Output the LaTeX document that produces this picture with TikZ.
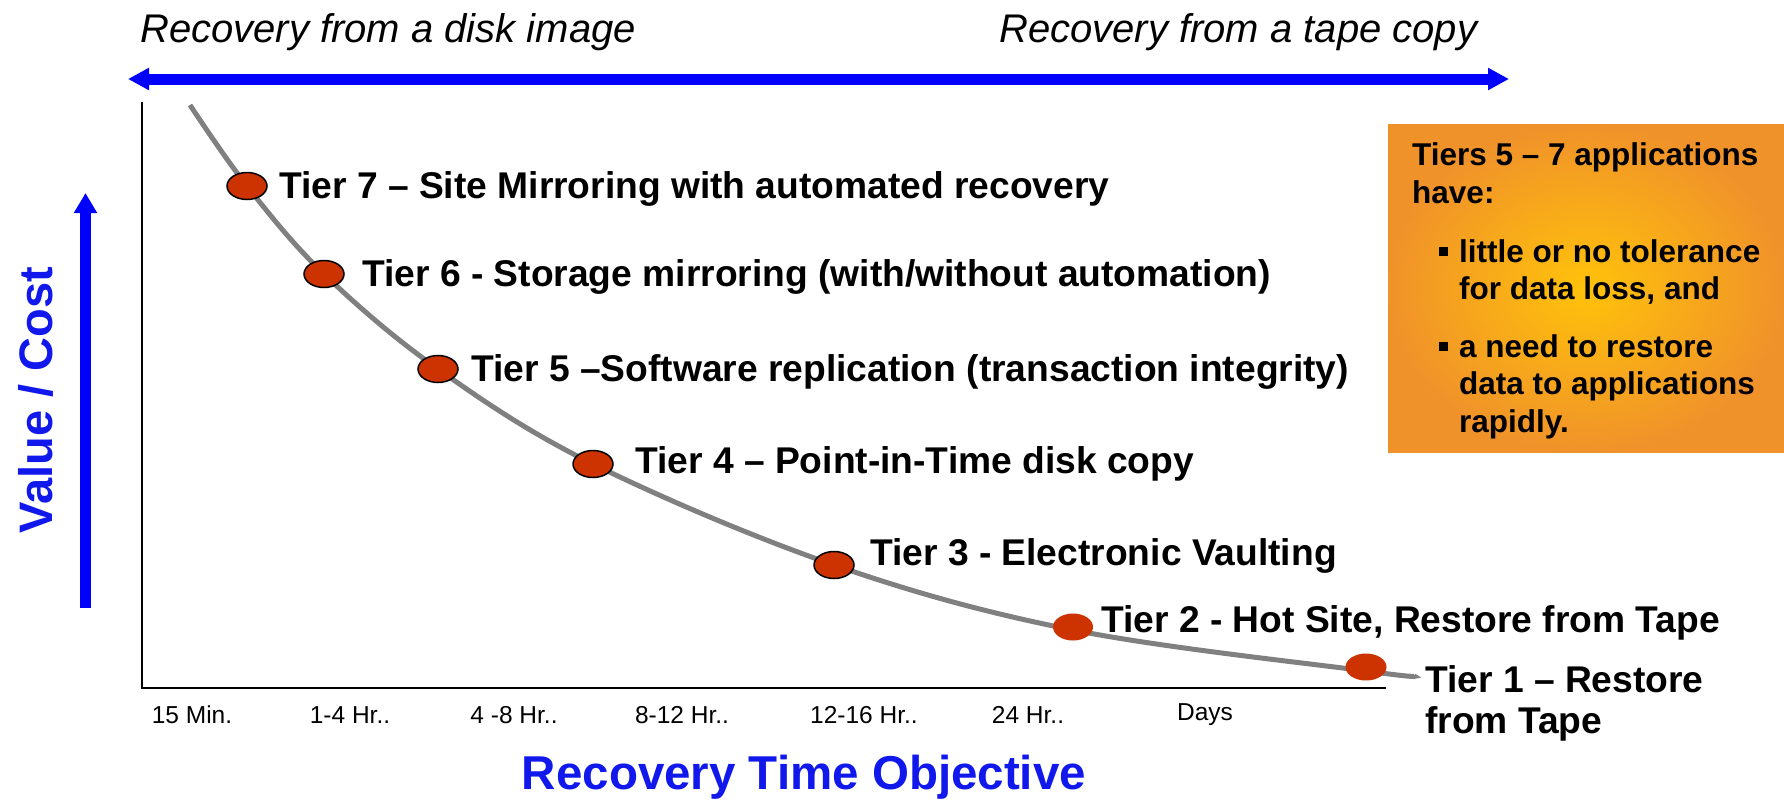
\documentclass[tikz,border=0pt]{standalone}
\usepackage{fontspec}
\setmainfont{Liberation Sans}
\usetikzlibrary{arrows.meta,shapes.geometric}
\definecolor{arrowblue}{RGB}{0,0,255}
\definecolor{titleblue}{RGB}{16,24,235}
\definecolor{dotred}{RGB}{204,51,0}
\definecolor{curvegray}{RGB}{128,128,128}
\definecolor{boxorange}{RGB}{240,146,42}
\definecolor{boxyellow}{RGB}{255,194,10}
\begin{document}
\begin{tikzpicture}[x=1pt,y=-1pt,
  tierlabel/.style={anchor=west,inner sep=0pt,font=\fontsize{37.2}{44}\selectfont\bfseries},
  ticklabel/.style={inner sep=0pt,font=\fontsize{24.5}{29}\selectfont},
  dotnode/.style={ellipse,minimum width=40pt,minimum height=27pt,inner sep=0pt,fill=dotred},
  dotring/.style={draw=black,line width=1.5pt},
  boxline/.style={anchor=base west,inner sep=0pt,font=\fontsize{31.5}{37.5}\selectfont\bfseries},
  toplabel/.style={anchor=base west,inner sep=0pt,font=\fontsize{40}{48}\selectfont\itshape},
  bigarrow/.style={arrowblue,line width=11pt},
  axislabel/.style={inner sep=0pt,text=titleblue,font=\fontsize{47}{56}\selectfont\bfseries},
  bullet/.style={fill=black,minimum size=9pt,inner sep=0pt},
  ]
\useasboundingbox (0,0) rectangle (1784,801);

% top captions and double arrow
\node[toplabel] (disk) at (140,42) {Recovery from a disk image};
\node[toplabel] (tape) at (999,42) {Recovery from a tape copy};
\coordinate (hl) at (128,79);
\coordinate (hr) at (1509,79);
\draw[bigarrow,{Triangle[length=21pt,width=21pt]}-{Triangle[length=21pt,width=21pt]}] (hl) -- (hr);

% vertical arrow and label
\coordinate (vb) at (85.5,608);
\coordinate (vt) at (85.5,193);
\draw[bigarrow,-{Triangle[length=20pt,width=22pt]}] (vb) -- (vt);
\node[axislabel,rotate=90] (value) at (36,400) {Value / Cost};

% axes
\coordinate (ytop) at (142,102);
\coordinate (orig) at (142,688);
\coordinate (xend) at (1386,688);
\draw[line width=2pt] (ytop) -- (orig) -- (xend);

% curve
\draw[curvegray,line width=5pt] plot[smooth,tension=0.6] coordinates
 {(190,105) (247,186) (324,274) (438,369) (593,464) (834,565) (1073,630) (1366,671) (1414,676)};

% dots
\node[dotnode,dotring] (d7) at (247,186) {};
\node[dotnode,dotring] (d6) at (324,274) {};
\node[dotnode,dotring] (d5) at (438,369) {};
\node[dotnode,dotring] (d4) at (593,464) {};
\node[dotnode,dotring] (d3) at (834,565) {};
\node[dotnode] (d2) at (1073,627) {};
\node[dotnode,minimum width=41pt] (d1) at (1366,667) {};

% tier labels
\node[tierlabel] (t7) at (279,189) {Tier 7 – Site Mirroring with automated recovery};
\node[tierlabel] (t6) at (362,277) {Tier 6 - Storage mirroring (with/without automation)};
\node[tierlabel] (t5) at (471,372) {Tier 5 –Software replication (transaction integrity)};
\node[tierlabel] (t4) at (635,464) {Tier 4 – Point-in-Time disk copy};
\node[tierlabel] (t3) at (870,556) {Tier 3 - Electronic Vaulting};
\node[tierlabel] (t2) at (1101,623) {Tier 2 - Hot Site, Restore from Tape};
\node[tierlabel,anchor=base west] (t1a) at (1425,692) {Tier 1 – Restore};
\node[tierlabel,anchor=base west] (t1b) at (1425,733) {from Tape};

% tick labels
\node[ticklabel] (x1) at (192,715) {15 Min.};
\node[ticklabel] (x2) at (350,715) {1-4 Hr..};
\node[ticklabel] (x3) at (514,715) {4 -8 Hr..};
\node[ticklabel] (x4) at (682,715) {8-12 Hr..};
\node[ticklabel] (x5) at (864,715) {12-16 Hr..};
\node[ticklabel] (x6) at (1028,715) {24 Hr..};
\node[ticklabel] (x7) at (1205,715) {Days};

\node[axislabel,font=\fontsize{47.5}{56}\selectfont\bfseries] (rto) at (804,777) {Recovery Time Objective};

% orange panel
\node[minimum width=396pt,minimum height=328pt,inner sep=0pt,shading=radial,
  inner color=boxyellow,outer color=boxorange] (panel) at (1586,288) {};
\node[boxline] (p1) at (1412,165) {Tiers 5 – 7 applications};
\node[boxline] (p2) at (1412,203) {have:};
\node[bullet] (b1) at (1443,251) {};
\node[boxline] (p3) at (1459,262) {little or no tolerance};
\node[boxline] (p4) at (1459,299) {for data loss, and};
\node[bullet] (b2) at (1443,346) {};
\node[boxline] (p5) at (1459,357) {a need to restore};
\node[boxline] (p6) at (1459,394) {data to applications};
\node[boxline] (p7) at (1459,432) {rapidly.};
\end{tikzpicture}
\end{document}
